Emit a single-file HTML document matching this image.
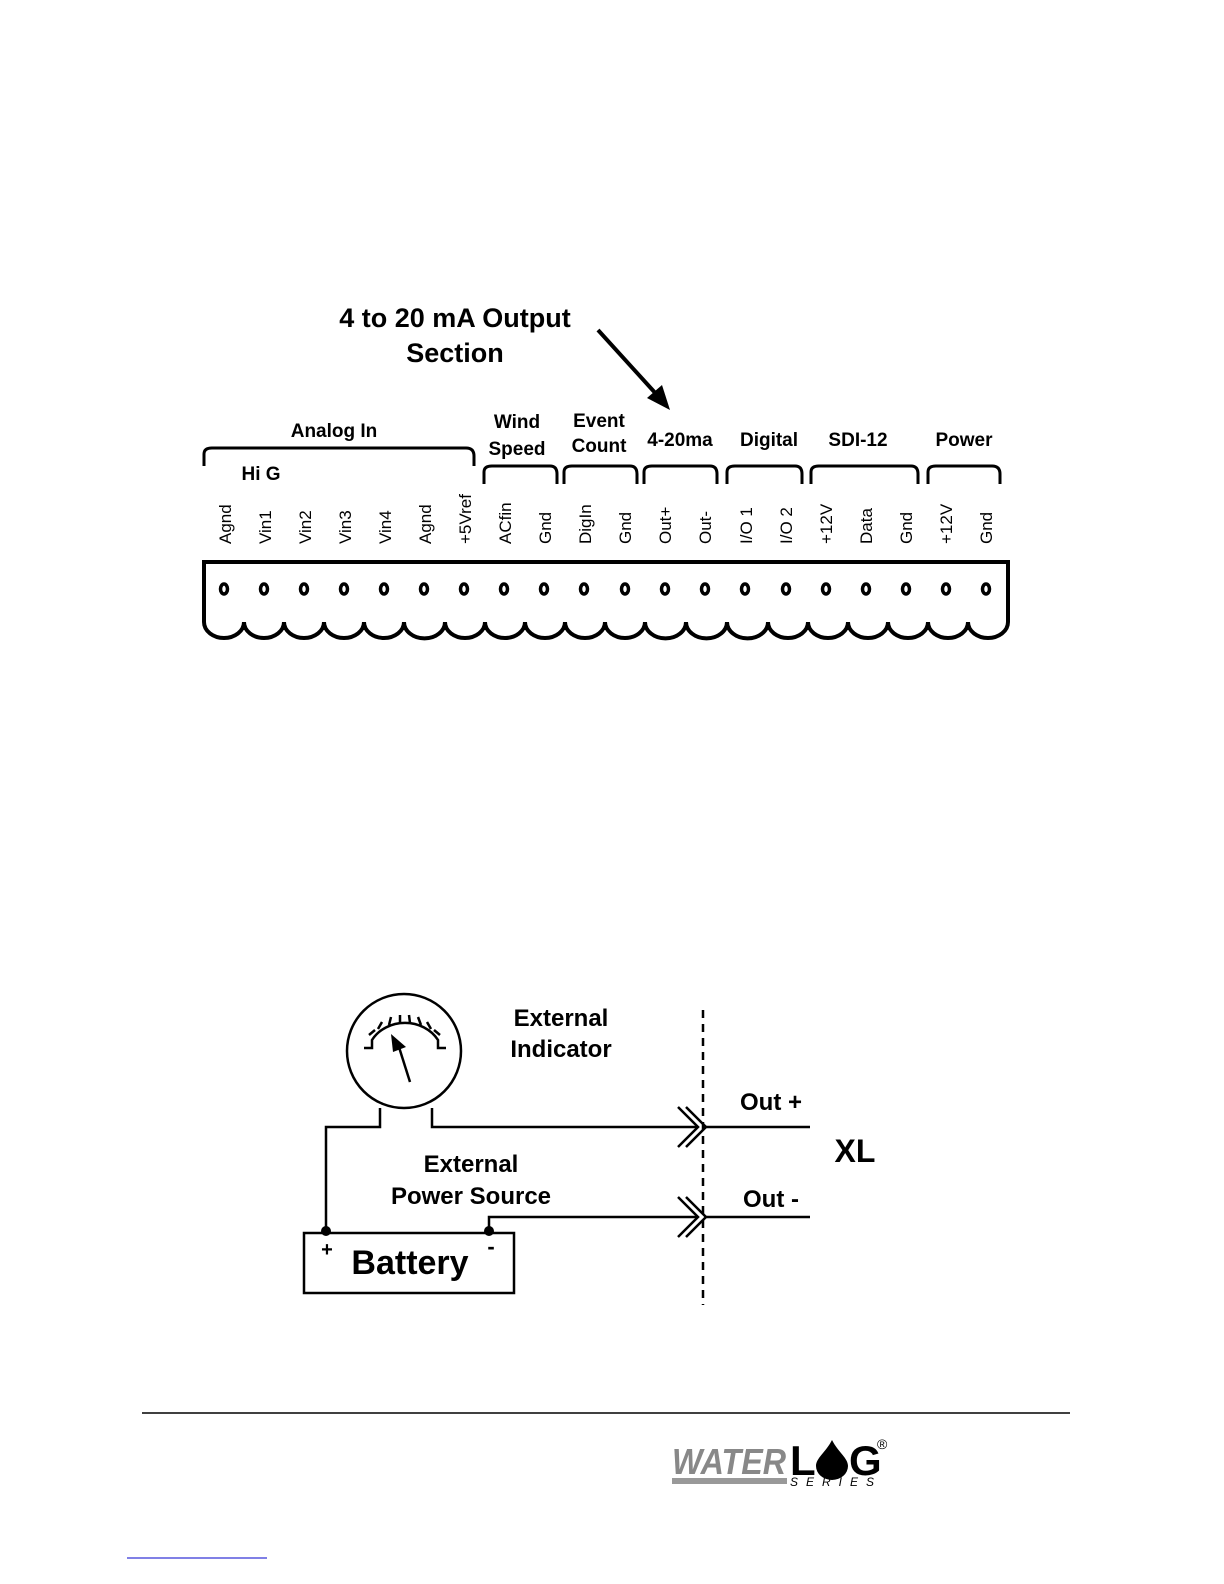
<!DOCTYPE html>
<html><head><meta charset="utf-8"><style>
html,body{margin:0;padding:0;background:#fff;}
svg{display:block;}
text{font-family:"Liberation Sans",Arial,sans-serif;fill:#000;}
.b{font-weight:bold;}
</style></head><body>
<svg width="1224" height="1584" viewBox="0 0 1224 1584" xmlns="http://www.w3.org/2000/svg">
<text x="455" y="327" class="b" font-size="27" text-anchor="middle">4 to 20 mA Output</text>
<text x="455" y="362" class="b" font-size="27" text-anchor="middle">Section</text>
<line x1="598" y1="330" x2="658" y2="396" stroke="#000" stroke-width="4"/>
<polygon points="670,410 647,398 662,385" fill="#000"/>

<g class="b" font-size="19" text-anchor="middle">
<text x="334" y="437">Analog In</text>
<text x="261" y="480">Hi G</text>
<text x="517" y="428">Wind</text>
<text x="517" y="455">Speed</text>
<text x="599" y="427">Event</text>
<text x="599" y="452">Count</text>
<text x="680" y="446">4-20ma</text>
<text x="769" y="446">Digital</text>
<text x="858" y="446">SDI-12</text>
<text x="964" y="446">Power</text>
</g>
<g fill="none" stroke="#000" stroke-width="3">
<path d="M204,466 V454 Q204,448 212,448 H466 Q474,448 474,456 V466"/>
<path d="M484,484 V472 Q484,466 492,466 H550 Q557,466 557,474 V484"/>
<path d="M564,484 V472 Q564,466 572,466 H630 Q637,466 637,474 V484"/>
<path d="M644,484 V472 Q644,466 652,466 H710 Q717,466 717,474 V484"/>
<path d="M727,484 V472 Q727,466 735,466 H795 Q802,466 802,474 V484"/>
<path d="M811,484 V472 Q811,466 819,466 H911 Q918,466 918,474 V484"/>
<path d="M928,484 V472 Q928,466 936,466 H992 Q1000,466 1000,474 V484"/>
</g>
<g font-size="17">
<text transform="translate(231,544) rotate(-90)">Agnd</text>
<text transform="translate(271,544) rotate(-90)">Vin1</text>
<text transform="translate(311,544) rotate(-90)">Vin2</text>
<text transform="translate(351,544) rotate(-90)">Vin3</text>
<text transform="translate(391,544) rotate(-90)">Vin4</text>
<text transform="translate(431,544) rotate(-90)">Agnd</text>
<text transform="translate(471,544) rotate(-90)">+5Vref</text>
<text transform="translate(511,544) rotate(-90)">ACfin</text>
<text transform="translate(551,544) rotate(-90)">Gnd</text>
<text transform="translate(591,544) rotate(-90)">DigIn</text>
<text transform="translate(631,544) rotate(-90)">Gnd</text>
<text transform="translate(671,544) rotate(-90)">Out+</text>
<text transform="translate(711,544) rotate(-90)">Out-</text>
<text transform="translate(752,544) rotate(-90)">I/O 1</text>
<text transform="translate(792,544) rotate(-90)">I/O 2</text>
<text transform="translate(832,544) rotate(-90)">+12V</text>
<text transform="translate(872,544) rotate(-90)">Data</text>
<text transform="translate(912,544) rotate(-90)">Gnd</text>
<text transform="translate(952,544) rotate(-90)">+12V</text>
<text transform="translate(992,544) rotate(-90)">Gnd</text>
</g>
<path fill="none" stroke="#000" stroke-width="4" d="M204,622 V562 H1008 V622
A20,16 0 0 1 968,622 A20,16 0 0 1 928,622 A20,16 0 0 1 888,622 A20,16 0 0 1 848,622 A20,16 0 0 1 808,622 A20,16 0 0 1 768,622 A20,16 0 0 1 727,622 A20,16 0 0 1 686,622 A20,16 0 0 1 645,622 A20,16 0 0 1 605,622 A20,16 0 0 1 565,622 A20,16 0 0 1 525,622 A20,16 0 0 1 485,622 A20,16 0 0 1 445,622 A20,16 0 0 1 404,622 A20,16 0 0 1 364,622 A20,16 0 0 1 324,622 A20,16 0 0 1 284,622 A20,16 0 0 1 244,622 A20,16 0 0 1 204,622"/>
<g fill="none" stroke="#000" stroke-width="3.5">
<ellipse cx="224" cy="589" rx="3.5" ry="5"/><ellipse cx="264" cy="589" rx="3.5" ry="5"/>
<ellipse cx="304" cy="589" rx="3.5" ry="5"/><ellipse cx="344" cy="589" rx="3.5" ry="5"/>
<ellipse cx="384" cy="589" rx="3.5" ry="5"/><ellipse cx="424" cy="589" rx="3.5" ry="5"/>
<ellipse cx="464" cy="589" rx="3.5" ry="5"/><ellipse cx="504" cy="589" rx="3.5" ry="5"/>
<ellipse cx="544" cy="589" rx="3.5" ry="5"/><ellipse cx="584" cy="589" rx="3.5" ry="5"/>
<ellipse cx="625" cy="589" rx="3.5" ry="5"/><ellipse cx="665" cy="589" rx="3.5" ry="5"/>
<ellipse cx="705" cy="589" rx="3.5" ry="5"/><ellipse cx="745" cy="589" rx="3.5" ry="5"/>
<ellipse cx="786" cy="589" rx="3.5" ry="5"/><ellipse cx="826" cy="589" rx="3.5" ry="5"/>
<ellipse cx="866" cy="589" rx="3.5" ry="5"/><ellipse cx="906" cy="589" rx="3.5" ry="5"/>
<ellipse cx="946" cy="589" rx="3.5" ry="5"/><ellipse cx="986" cy="589" rx="3.5" ry="5"/>
</g>

<g fill="none" stroke="#000" stroke-width="2.5">
<circle cx="404" cy="1051" r="57"/>
<path d="M364,1048 H372 V1040 A38,34 0 0 1 438,1040 V1048 H446"/>
<path d="M375,1030 L369,1035 M382,1022 L378,1029 M391,1017 L389,1025 M400,1015 L400,1023 M409,1015 L410,1023 M418,1017 L421,1025 M427,1022 L431,1029 M434,1030 L440,1035"/>
<line x1="410" y1="1082" x2="398" y2="1044"/>
<path d="M380,1108 V1127 H326 V1231"/>
<path d="M432,1108 V1127 H698"/>
<path d="M489,1231 V1217 H698"/>
<line x1="705" y1="1127" x2="810" y2="1127"/>
<line x1="705" y1="1217" x2="810" y2="1217"/>
<path d="M678,1107 L698,1127 L678,1147 M686,1107 L706,1127 L686,1147"/>
<path d="M678,1197 L698,1217 L678,1237 M686,1197 L706,1217 L686,1237"/>
<rect x="304" y="1233" width="210" height="60"/>
<line x1="703" y1="1010" x2="703" y2="1305" stroke-dasharray="8,6"/>
</g>
<polygon points="391,1034 406,1047 393,1052" fill="#000"/>
<circle cx="326" cy="1231" r="5" fill="#000"/>
<circle cx="489" cy="1231" r="5" fill="#000"/>
<g class="b" text-anchor="middle">
<text x="561" y="1026" font-size="24">External</text>
<text x="561" y="1057" font-size="24">Indicator</text>
<text x="471" y="1172" font-size="24">External</text>
<text x="471" y="1204" font-size="24">Power Source</text>
<text x="771" y="1110" font-size="24">Out +</text>
<text x="771" y="1207" font-size="24">Out -</text>
<text x="855" y="1162" font-size="32">XL</text>
<text x="410" y="1274" font-size="34">Battery</text>
<text x="327" y="1256" font-size="20">+</text>
<text x="491" y="1254" font-size="22">-</text>
</g>

<line x1="142" y1="1413" x2="1070" y2="1413" stroke="#000" stroke-width="1.5"/>
<text x="672" y="1474" font-family="Liberation Serif" font-style="italic" font-weight="bold" font-size="36" textLength="114" lengthAdjust="spacingAndGlyphs" style="fill:#888">WATER</text>
<text x="790" y="1475" class="b" font-size="42">L</text>
<path d="M832,1440 C826,1452 816,1458 816,1466 A16,14 0 0 0 848,1466 C848,1458 838,1452 832,1440Z" fill="#000"/>
<text x="849" y="1475" class="b" font-size="42">G</text>
<text x="877" y="1449" font-size="14">®</text>
<rect x="672" y="1478" width="115" height="6" fill="#999"/>
<text x="790" y="1486" font-family="Liberation Serif" font-style="italic" font-size="12" letter-spacing="8">SERIES</text>
<line x1="127" y1="1558" x2="267" y2="1558" stroke="#00c" stroke-width="1"/>
</svg>
</body></html>
